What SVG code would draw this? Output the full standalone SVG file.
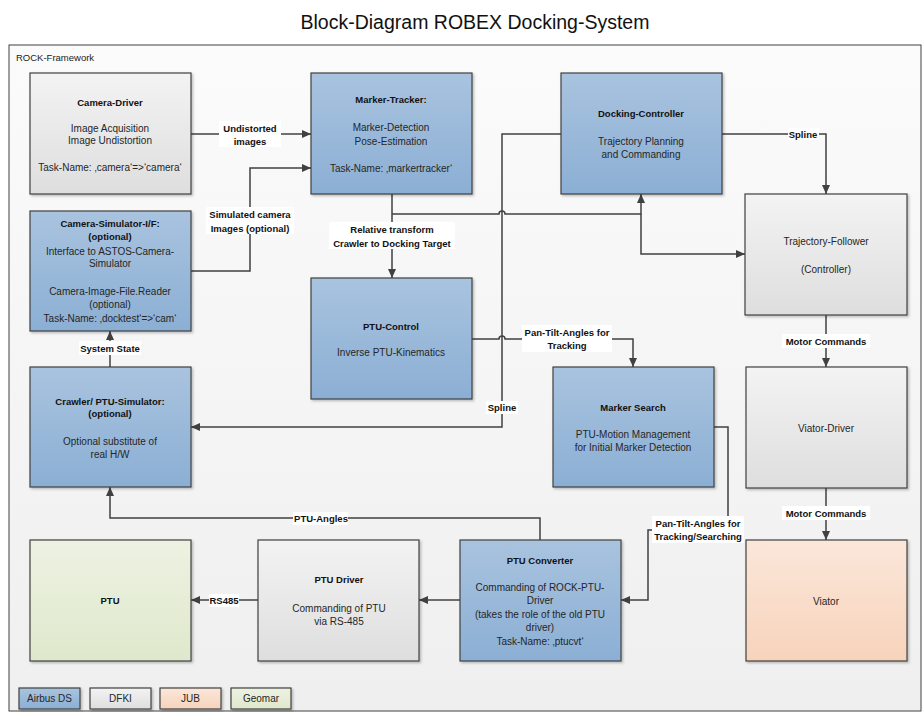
<svg xmlns="http://www.w3.org/2000/svg" width="922" height="713" viewBox="0 0 922 713">
<defs>
<linearGradient id="gBg" x1="0" y1="0" x2="0" y2="1"><stop offset="0" stop-color="#fbfbfb"/><stop offset="1" stop-color="#efefef"/></linearGradient>
<linearGradient id="gBlue" x1="0" y1="0" x2="0" y2="1"><stop offset="0" stop-color="#a9c3df"/><stop offset="1" stop-color="#8bafd4"/></linearGradient>
<linearGradient id="gGray" x1="0" y1="0" x2="0" y2="1"><stop offset="0" stop-color="#f3f3f3"/><stop offset="1" stop-color="#dedede"/></linearGradient>
<linearGradient id="gPeach" x1="0" y1="0" x2="0" y2="1"><stop offset="0" stop-color="#fbe7da"/><stop offset="1" stop-color="#f7d3bb"/></linearGradient>
<linearGradient id="gGreen" x1="0" y1="0" x2="0" y2="1"><stop offset="0" stop-color="#edf2e2"/><stop offset="1" stop-color="#dfe8cc"/></linearGradient>
<filter id="sh" x="-5%" y="-5%" width="115%" height="115%"><feDropShadow dx="1.5" dy="1.5" stdDeviation="1" flood-color="#000" flood-opacity="0.25"/></filter>
<marker id="arr" markerUnits="userSpaceOnUse" markerWidth="9" markerHeight="8" refX="9" refY="4" orient="auto"><path d="M0,0 L9,4 L0,8 z" fill="#404040"/></marker>
<style>
.box{stroke:#404040;stroke-width:1.2;filter:url(#sh)}
.blue{fill:url(#gBlue)}
.gray{fill:url(#gGray)}
.peach{fill:url(#gPeach)}
.green{fill:url(#gGreen)}
.t{font-family:"Liberation Sans",Arial,sans-serif;font-size:10px;fill:#262626;text-anchor:middle}
.b{font-family:"Liberation Sans",Arial,sans-serif;font-size:9.5px;font-weight:bold;fill:#111;text-anchor:middle}
.ln{fill:none;stroke:#404040;stroke-width:1.5}
.lbl{fill:#fff}
</style>
</defs>
<text x="475" y="29" style="font-family:'Liberation Sans',Arial,sans-serif;font-size:19.5px;fill:#111;text-anchor:middle">Block-Diagram ROBEX Docking-System</text>
<g id="frame">
<rect x="9" y="45" width="912" height="666" fill="url(#gBg)" stroke="#404040" stroke-width="1"/>
<text x="16" y="61" style="font-family:'Liberation Sans',Arial,sans-serif;font-size:9.5px;fill:#222">ROCK-Framework</text>
</g>
<g id="connectors">
<path class="ln" d="M191,134 H311" marker-end="url(#arr)"/>
<path class="ln" d="M191,271 H250 V168 H311" marker-end="url(#arr)"/>
<path class="ln" d="M392,194 V278" marker-end="url(#arr)"/>
<path class="ln" d="M392,214 H499 A3,3 0 0 1 505,214 H641 V194" marker-end="url(#arr)"/>
<path class="ln" d="M641,214 V254 H745" marker-end="url(#arr)"/>
<path class="ln" d="M561,134 H502 V427 H191" marker-end="url(#arr)"/>
<path class="ln" d="M722,134 H826 V194" marker-end="url(#arr)"/>
<path class="ln" d="M472,339 H499 A3,3 0 0 1 505,339 H633 V367" marker-end="url(#arr)"/>
<path class="ln" d="M826,315 V367" marker-end="url(#arr)"/>
<path class="ln" d="M826,488 V540" marker-end="url(#arr)"/>
<path class="ln" d="M714,427 H728 V530 H648 V600 H621" marker-end="url(#arr)"/>
<path class="ln" d="M110,367 V331" marker-end="url(#arr)"/>
<path class="ln" d="M540,540 V518 H110 V487" marker-end="url(#arr)"/>
<path class="ln" d="M460,600 H419" marker-end="url(#arr)"/>
<path class="ln" d="M258,600 H191" marker-end="url(#arr)"/>
<rect class="lbl" x="219" y="121" width="62" height="26"/>
<text class="b" x="250" y="131.5">Undistorted</text>
<text class="b" x="250" y="144.5">images</text>
<rect class="lbl" x="206" y="207" width="88" height="27"/>
<text class="b" x="250" y="217.5">Simulated camera</text>
<text class="b" x="250" y="231.5">Images (optional)</text>
<rect class="lbl" x="329" y="222" width="126" height="27"/>
<text class="b" x="392" y="232.5">Relative transform</text>
<text class="b" x="392" y="246.5">Crawler to Docking Target</text>
<rect class="lbl" x="486" y="401" width="32" height="13"/>
<text class="b" x="502" y="410.5">Spline</text>
<rect class="lbl" x="788" y="128" width="31" height="12"/>
<text class="b" x="803" y="137.5">Spline</text>
<rect class="lbl" x="522" y="325" width="90" height="27"/>
<text class="b" x="567" y="335.5">Pan-Tilt-Angles for</text>
<text class="b" x="567" y="348.5">Tracking</text>
<rect class="lbl" x="782" y="334" width="88" height="14"/>
<text class="b" x="826" y="344.5">Motor Commands</text>
<rect class="lbl" x="782" y="506" width="88" height="14"/>
<text class="b" x="826" y="516.5">Motor Commands</text>
<rect class="lbl" x="652" y="516" width="92" height="27"/>
<text class="b" x="698" y="526.5">Pan-Tilt-Angles for</text>
<text class="b" x="698" y="539.5">Tracking/Searching</text>
<rect class="lbl" x="79" y="341" width="62" height="14"/>
<text class="b" x="110" y="351.5">System State</text>
<rect class="lbl" x="293" y="512" width="55" height="13"/>
<text class="b" x="321" y="521.5">PTU-Angles</text>
<rect class="lbl" x="209" y="594" width="30" height="13"/>
<text class="b" x="224" y="603.5">RS485</text>
</g>
<g id="camera-driver">
<rect class="box gray" x="30" y="73" width="161" height="121"/>
<text class="b" x="110" y="105.5">Camera-Driver</text>
<text class="t" x="110" y="131.5">Image Acquisition</text>
<text class="t" x="110" y="143.5">Image Undistortion</text>
<text class="t" x="110" y="170.5">Task-Name: ‚camera‘=&gt;‘camera‘</text>
</g>
<g id="marker-tracker">
<rect class="box blue" x="311" y="73" width="161" height="121"/>
<text class="b" x="391" y="102.5">Marker-Tracker:</text>
<text class="t" x="391" y="130.5">Marker-Detection</text>
<text class="t" x="391" y="144.5">Pose-Estimation</text>
<text class="t" x="391" y="171.5">Task-Name: ‚markertracker‘</text>
</g>
<g id="docking-controller">
<rect class="box blue" x="561" y="73" width="161" height="121"/>
<text class="b" x="641" y="116.5">Docking-Controller</text>
<text class="t" x="641" y="144.5">Trajectory Planning</text>
<text class="t" x="641" y="157.5">and Commanding</text>
</g>
<g id="trajectory-follower">
<rect class="box gray" x="745" y="194" width="162" height="121"/>
<text class="t" x="826" y="244.5">Trajectory-Follower</text>
<text class="t" x="826" y="272.5">(Controller)</text>
</g>
<g id="camera-simulator">
<rect class="box blue" x="30" y="211" width="161" height="120"/>
<text class="b" x="110" y="226.5">Camera-Simulator-I/F:</text>
<text class="b" x="110" y="239.5">(optional)</text>
<text class="t" x="110" y="254.5">Interface to ASTOS-Camera-</text>
<text class="t" x="110" y="266.5">Simulator</text>
<text class="t" x="110" y="294.5">Camera-Image-File.Reader</text>
<text class="t" x="110" y="307.5">(optional)</text>
<text class="t" x="110" y="321.5">Task-Name: ‚docktest‘=&gt;‘cam‘</text>
</g>
<g id="ptu-control">
<rect class="box blue" x="311" y="278" width="161" height="121"/>
<text class="b" x="391" y="329.5">PTU-Control</text>
<text class="t" x="391" y="355.5">Inverse PTU-Kinematics</text>
</g>
<g id="crawler-simulator">
<rect class="box blue" x="30" y="367" width="161" height="120"/>
<text class="b" x="110" y="404.5">Crawler/ PTU-Simulator:</text>
<text class="b" x="110" y="416.5">(optional)</text>
<text class="t" x="110" y="444.5">Optional substitute of</text>
<text class="t" x="110" y="457.5">real H/W</text>
</g>
<g id="marker-search">
<rect class="box blue" x="553" y="367" width="161" height="120"/>
<text class="b" x="633" y="410.5">Marker Search</text>
<text class="t" x="633" y="437.5">PTU-Motion Management</text>
<text class="t" x="633" y="450.5">for Initial Marker Detection</text>
</g>
<g id="viator-driver">
<rect class="box gray" x="746" y="367" width="161" height="121"/>
<text class="t" x="826" y="431.5">Viator-Driver</text>
</g>
<g id="ptu">
<rect class="box green" x="30" y="540" width="161" height="121"/>
<text class="b" x="110" y="603.5">PTU</text>
</g>
<g id="ptu-driver">
<rect class="box gray" x="258" y="540" width="161" height="121"/>
<text class="b" x="339" y="582.5">PTU Driver</text>
<text class="t" x="339" y="611.5">Commanding of PTU</text>
<text class="t" x="339" y="624.5">via RS-485</text>
</g>
<g id="ptu-converter">
<rect class="box blue" x="460" y="540" width="161" height="121"/>
<text class="b" x="540" y="563.5">PTU Converter</text>
<text class="t" x="540" y="590.5">Commanding of ROCK-PTU-</text>
<text class="t" x="540" y="603.5">Driver</text>
<text class="t" x="540" y="617.5">(takes the role of the old PTU</text>
<text class="t" x="540" y="630.5">driver)</text>
<text class="t" x="540" y="644.5">Task-Name: ‚ptucvt‘</text>
</g>
<g id="viator">
<rect class="box peach" x="746" y="540" width="161" height="121"/>
<text class="t" x="826" y="604.5">Viator</text>
</g>
<g id="legend">
<rect class="box blue" x="19" y="688" width="61" height="21"/>
<text class="t" x="49.5" y="702">Airbus DS</text>
<rect class="box gray" x="90" y="688" width="61" height="21"/>
<text class="t" x="120.5" y="702">DFKI</text>
<rect class="box peach" x="160" y="688" width="61" height="21"/>
<text class="t" x="190.5" y="702">JUB</text>
<rect class="box green" x="231" y="688" width="60" height="21"/>
<text class="t" x="261" y="702">Geomar</text>
</g>
</svg>
